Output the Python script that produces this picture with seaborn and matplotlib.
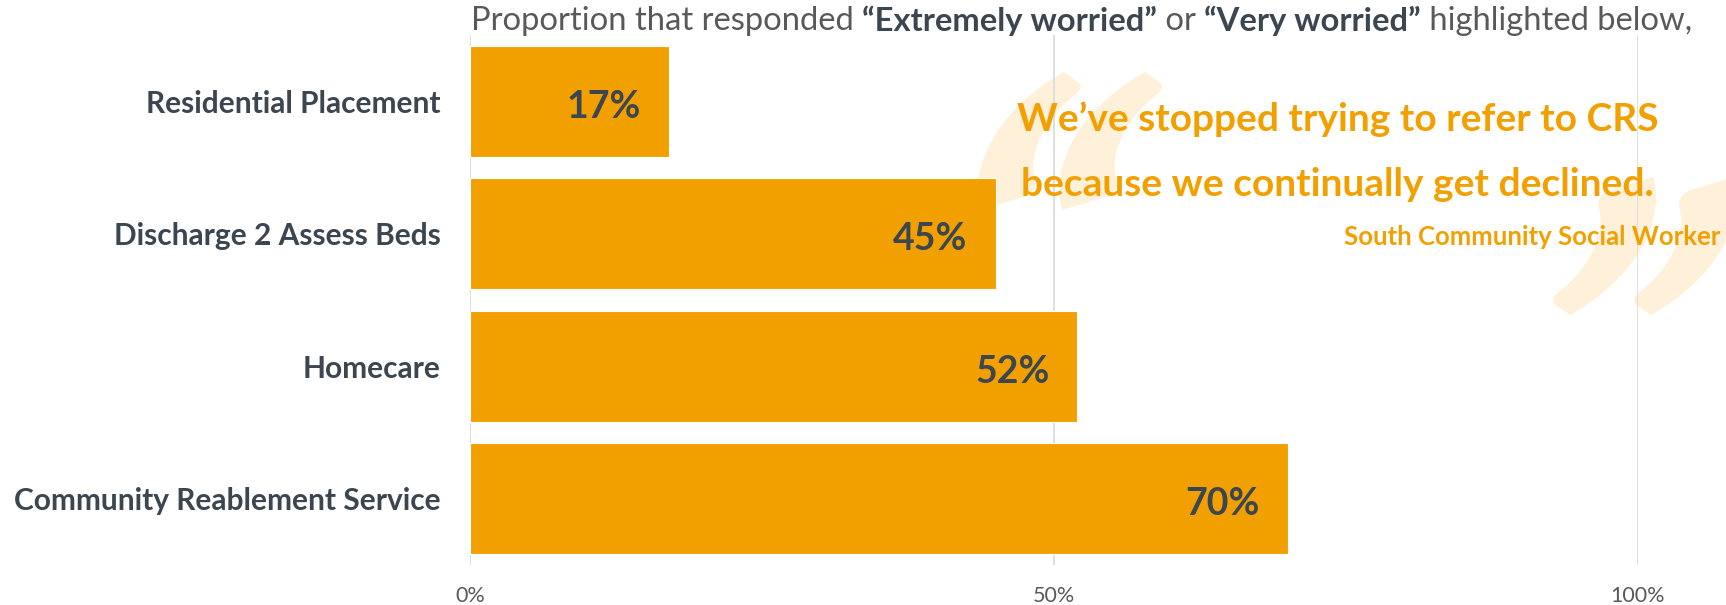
import matplotlib
matplotlib.use("Agg")
import matplotlib.pyplot as plt
import seaborn as sns
import pandas as pd
from matplotlib.textpath import TextPath
from matplotlib.font_manager import FontProperties
from matplotlib.patches import PathPatch
from matplotlib.transforms import Affine2D, IdentityTransform

categories = ["Residential Placement", "Discharge 2 Assess Beds", "Homecare",
              "Community Reablement Service"]
values = [17, 45, 52, 70]
tick_values = [0, 50, 100]
tick_labels = ["0%", "50%", "100%"]

title_parts = [("Proportion that responded ", "normal"),
               ("\u201cExtremely worried\u201d", "bold"),
               (" or ", "normal"),
               ("\u201cVery worried\u201d", "bold"),
               (" highlighted below,", "normal")]
quote_lines = ["We\u2019ve stopped trying to refer to CRS",
               "because we continually get declined."]
quote_author = "South Community Social Worker"

ORANGE = "#F2A000"
SLATE = "#3B4650"
GREY_TXT = "#595959"
FAINT = "#FEF0D9"

W, H = 1726, 605

sns.set_theme(style="white")
plt.rcParams["font.family"] = ["Lato", "DejaVu Sans"]

df = pd.DataFrame({"category": categories, "value": values})

fig = plt.figure(figsize=(W / 100, H / 100), dpi=100)
ax = fig.add_axes([470 / W, 1 - 565 / H, (1638 - 470) / W, 530 / H])


def big_quote(char, x0, x1, y_top, y_bot):
    """Draw a large slanted quotation mark filling a pixel box (top-left origin)."""
    path = TextPath((0, 0), char, size=100,
                    prop=FontProperties(family="Lato", weight="bold"))
    path = Affine2D().skew_deg(20, 0).transform_path(path)
    ext = path.get_extents()
    sx = (x1 - x0) / ext.width
    sy = (y_bot - y_top) / ext.height
    tr = (Affine2D().translate(-ext.x0, -ext.y0).scale(sx, sy)
          .translate(x0, H - y_bot))
    patch = PathPatch(tr.transform_path(path), facecolor=FAINT, edgecolor="none",
                      transform=IdentityTransform(), zorder=-1)
    fig.add_artist(patch)


big_quote("\u201c", 978, 1162, 72, 210)
big_quote("\u201d", 1553, 1737, 177, 315)

ax.patch.set_alpha(0)
for x in tick_values:
    ax.axvline(x, color="#D9D9D9", lw=1.2, zorder=0)

sns.barplot(data=df, x="value", y="category", orient="h", color=ORANGE,
            saturation=1, width=0.84, ax=ax, edgecolor="white", linewidth=0.8,
            zorder=2)

for i, v in enumerate(values):
    ax.text(v - 2.4, i + 0.04, f"{v}%", ha="right", va="center",
            fontsize=27, fontweight="bold", color=SLATE, zorder=3)

ax.set_xlim(0, 100)
ax.set_ylim(3.5, -0.5)
ax.set_xticks(tick_values)
ax.set_xticklabels(tick_labels, fontsize=15.5, color=GREY_TXT)
ax.tick_params(axis="x", length=0, pad=15)
ax.tick_params(axis="y", length=0, pad=21)
for lab in ax.get_yticklabels():
    lab.set_fontsize(21.5)
    lab.set_fontweight("bold")
    lab.set_color(SLATE)
ax.set_xlabel("")
ax.set_ylabel("")
sns.despine(ax=ax, left=True, bottom=True)

# quote text
fig.text(0.775, 1 - 119 / H, quote_lines[0], ha="center", va="center",
         fontsize=28, fontweight="bold", color=ORANGE, zorder=5)
fig.text(0.775, 1 - 185 / H, quote_lines[1], ha="center", va="center",
         fontsize=28, fontweight="bold", color=ORANGE, zorder=5)
fig.text(1720 / W, 1 - 237 / H, quote_author, ha="right", va="center",
         fontsize=18.5, fontweight="bold", color=ORANGE, zorder=5)

# title built from plain and bold pieces laid end to end
renderer = fig.canvas.get_renderer()
x = 471 / W
y = 1 - 21 / H
for txt, weight in title_parts:
    t = fig.text(x, y, txt, ha="left", va="center", fontsize=23.6,
                 fontweight=weight, color=GREY_TXT if weight == "normal" else SLATE)
    bb = t.get_window_extent(renderer=renderer)
    x += bb.width / fig.bbox.width

fig.savefig("out.png", dpi=100)
